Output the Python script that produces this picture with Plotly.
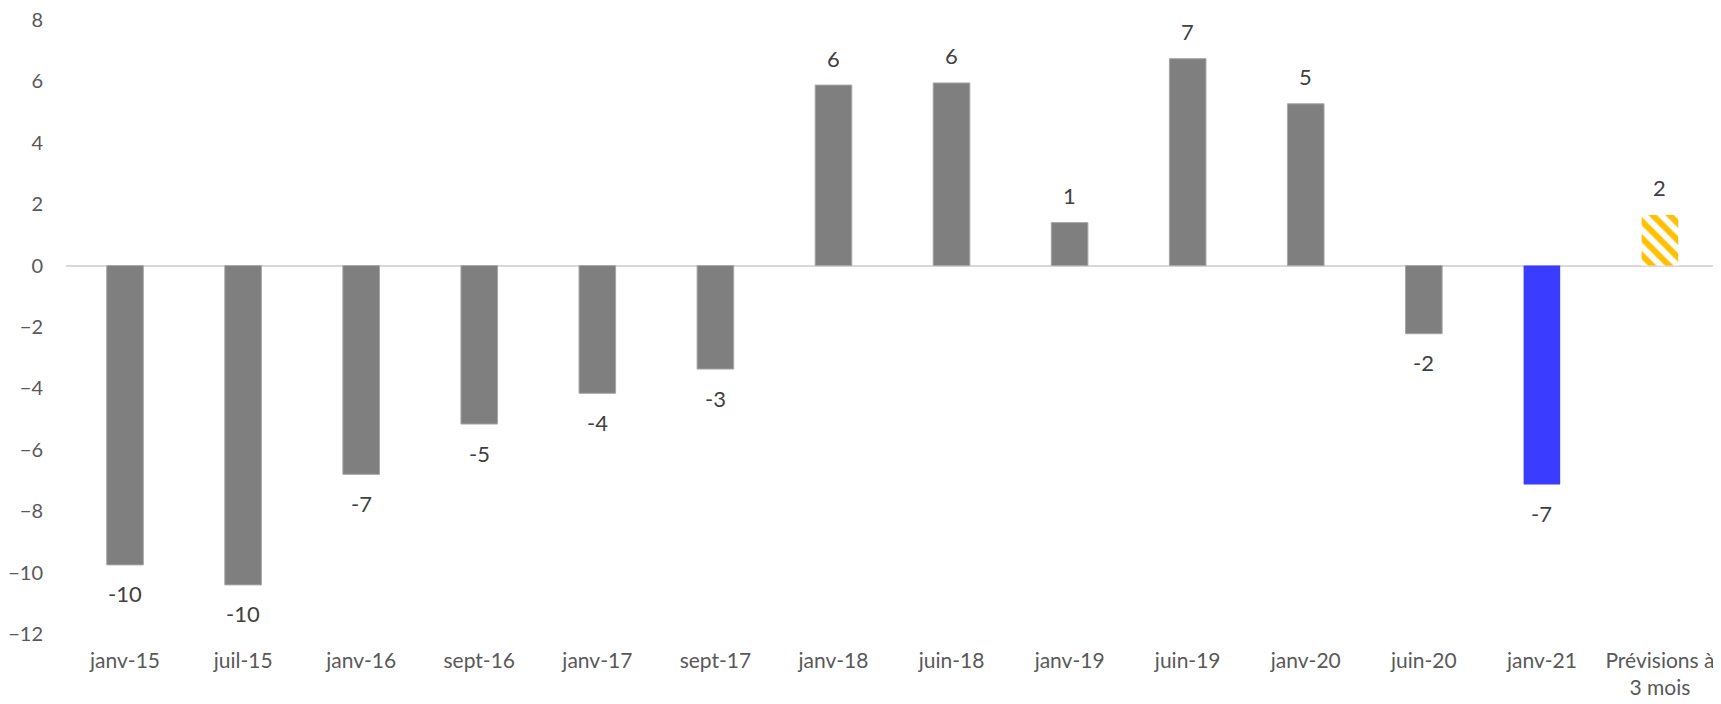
import plotly.graph_objects as go

categories = ["janv-15", "juil-15", "janv-16", "sept-16", "janv-17", "sept-17",
              "janv-18", "juin-18", "janv-19", "juin-19", "janv-20", "juin-20",
              "janv-21", "Prévisions à<br>3 mois"]
values = [-9.75, -10.4, -6.8, -5.16, -4.16, -3.37, 5.88, 5.95, 1.4, 6.74, 5.27, -2.22, -7.13, 1.65]
y_ticks = [-12, -10, -8, -6, -4, -2, 0, 2, 4, 6, 8]

GRAY = "#7f7f7f"
BLUE = "#3a3dff"
YELLOW = "#ffc000"
FONT = "Lato, sans-serif"

hist_x = categories[:12]
hist_y = values[:12]

fig = go.Figure()
fig.add_trace(go.Bar(x=hist_x, y=hist_y, marker=dict(color=GRAY, line=dict(color="#a6a6a6", width=1)),
                     width=0.31, showlegend=False))
fig.add_trace(go.Bar(x=[categories[12]], y=[values[12]], marker=dict(color=BLUE, line=dict(width=0)),
                     width=0.31, showlegend=False))
fig.add_trace(go.Bar(x=[categories[13]], y=[values[13]],
                     marker=dict(color="white", line=dict(width=0),
                                 pattern=dict(shape="\\", fgcolor=YELLOW, bgcolor="white",
                                              size=12, solidity=0.5, fillmode="replace")),
                     width=0.31, showlegend=False))

for c, v in zip(categories, values):
    fig.add_annotation(x=c, y=v, text=f"{round(v):d}", showarrow=False,
                       yshift=27 if v >= 0 else -29, yanchor="middle",
                       font=dict(family=FONT, size=22, color="#404040"))

fig.update_layout(
    width=1713, height=696,
    margin=dict(l=58, r=2, t=12, b=70, autoexpand=False),
    plot_bgcolor="white", paper_bgcolor="white",
    barmode="overlay",
    font=dict(family=FONT, color="#595959", size=21),
)
fig.update_xaxes(type="category", showgrid=False, showline=False, zeroline=False,
                 automargin=False, ticklabeloverflow="allow",
                 ticks="", ticklabelstandoff=12, tickfont=dict(size=21, color="#595959"),
                 categoryorder="array", categoryarray=categories)
fig.update_yaxes(range=[-12, 8], tickvals=y_ticks, showgrid=False, showline=False,
                 zeroline=True, zerolinecolor="#d9d9d9", zerolinewidth=1.5,
                 automargin=False, ticklabeloverflow="allow",
                 ticks="", ticklabelstandoff=22,
                 tickfont=dict(size=20, color="#595959"))

fig.write_html("out.html")
